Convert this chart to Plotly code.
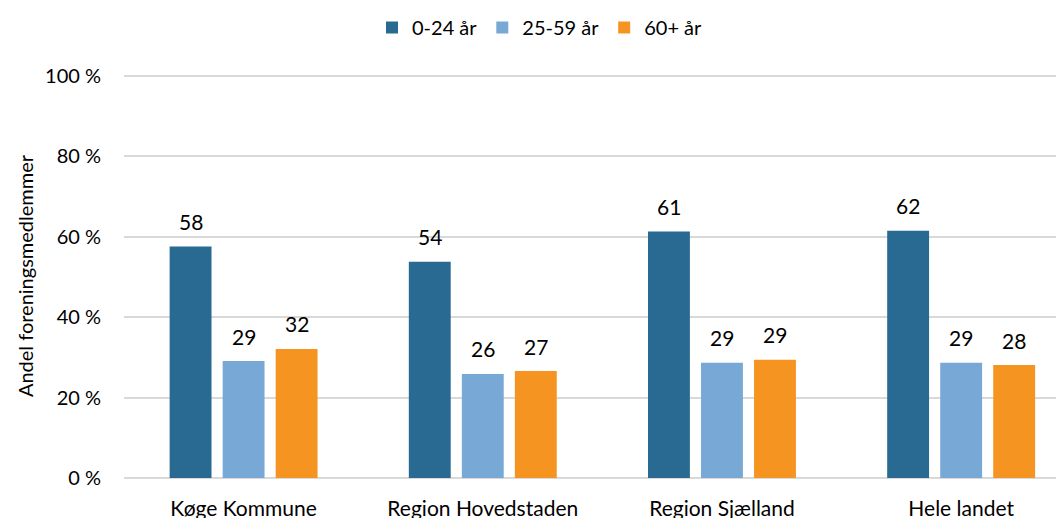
import plotly.graph_objects as go

categories = ["Køge Kommune", "Region Hovedstaden", "Region Sjælland", "Hele landet"]
series_names = ["0-24 år", "25-59 år", "60+ år"]
young = [57.6, 53.8, 61.3, 61.5]
middle = [29.1, 25.9, 28.7, 28.7]
old = [32.1, 26.6, 29.4, 28.1]
colors = ["#286a91", "#78a9d6", "#f59420"]
y_ticks = [0, 20, 40, 60, 80, 100]
y_ticktext = ["0 %", "20 %", "40 %", "60 %", "80 %", "100 %"]

FONT = "Lato"
FS = 20
SLOT_PX = 53  # horizontal distance between bars within a group

fig = go.Figure()
all_series = [young, middle, old]
for i, (name, vals, col) in enumerate(zip(series_names, all_series, colors)):
    fig.add_trace(go.Bar(
        x=categories, y=vals, name=name,
        marker=dict(color=col, line=dict(width=0)),
        cliponaxis=False,
    ))
    for cat, v in zip(categories, vals):
        fig.add_annotation(
            x=cat, y=v, xref="x", yref="y", text=f"{v:.0f}",
            showarrow=False, xshift=(i - 1) * SLOT_PX, yshift=25,
            yanchor="middle", font=dict(family=FONT, size=21, color="#000000"),
        )

fig.update_layout(
    width=1064, height=518,
    margin=dict(l=116, r=8, t=66, b=48, autoexpand=False),
    paper_bgcolor="white", plot_bgcolor="white",
    barmode="group", bargap=0.335, bargroupgap=0.21,
    font=dict(family=FONT, size=FS, color="#000000"),
    legend=dict(orientation="h", x=0.5, xref="container", xanchor="center",
                y=1.0, yref="container", yanchor="top",
                font=dict(family=FONT, size=FS), itemwidth=30,
                traceorder="normal"),
    xaxis=dict(range=[-0.5, 3.43], showgrid=False, showline=False, zeroline=False,
               automargin=False,
               ticks="", tickfont=dict(family=FONT, size=21), ticklabelstandoff=16),
    yaxis=dict(range=[0, 100.5], tickvals=y_ticks, ticktext=y_ticktext,
               automargin=False,
               showgrid=True, gridcolor="#d9d9d9", gridwidth=1.5,
               zeroline=True, zerolinecolor="#d9d9d9", zerolinewidth=1.5,
               showline=False, ticks="", ticklabelstandoff=22,
               tickfont=dict(family=FONT, size=FS),
               title=dict(text="Andel foreningsmedlemmer", font=dict(family=FONT, size=FS), standoff=6)),
)

fig.write_html("out.html")
